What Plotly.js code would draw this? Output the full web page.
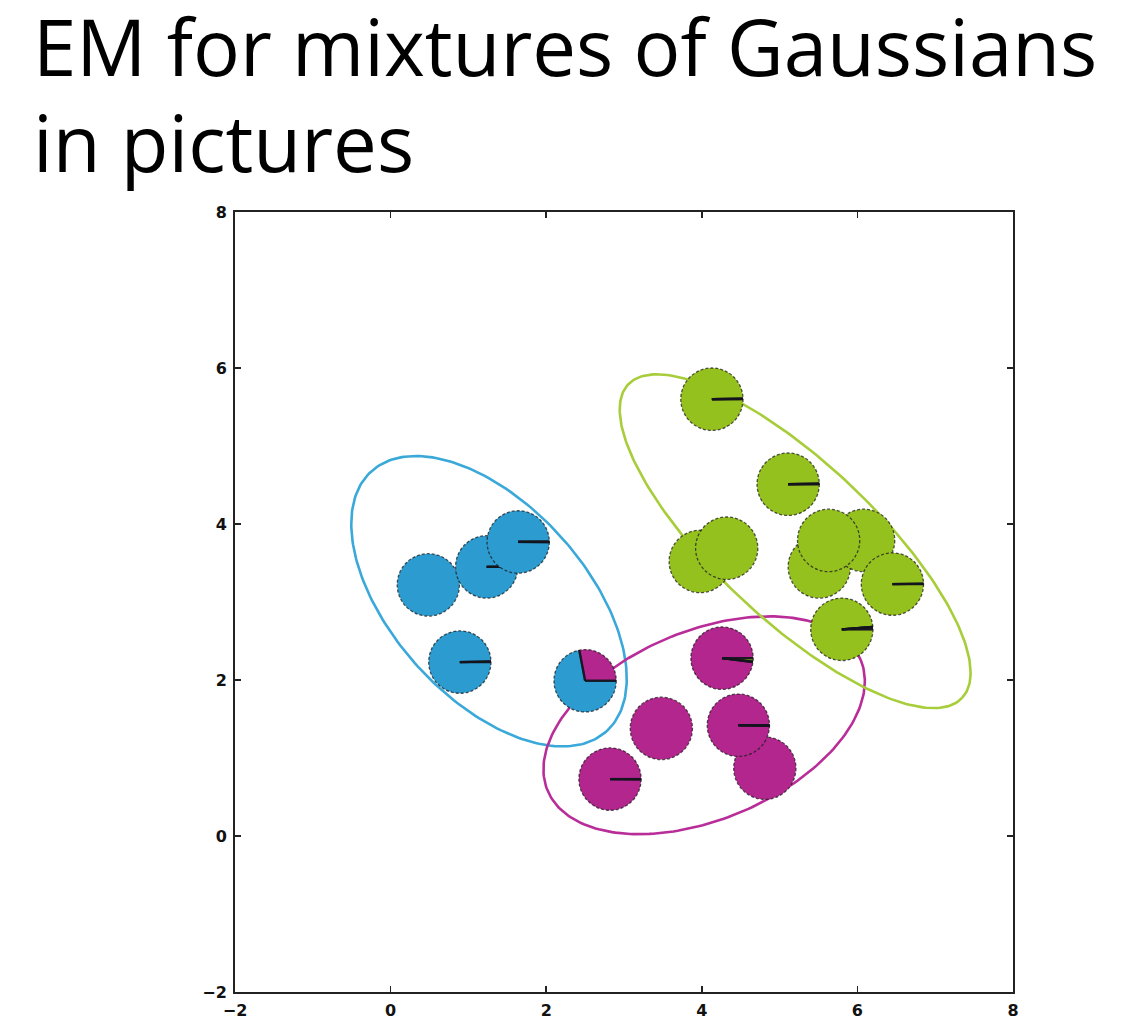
<!DOCTYPE html>
<html><head><meta charset="utf-8">
<script src="https://cdn.plot.ly/plotly-3.0.1.min.js"></script>
<style>html,body{margin:0;padding:0;background:#fff;}#chart{width:1130px;height:1022px;}</style>
</head><body><div id="chart"></div>
<script>
// ---- data points (draw order) ----
const pointX = [0.485, 0.89, 1.235, 1.64, 2.50, 2.82, 3.48, 4.81, 4.47, 4.26, 4.13, 5.11, 3.98, 4.32, 5.51, 6.08, 5.63, 6.45, 5.80];
const pointY = [3.22, 2.23, 3.45, 3.77, 1.99, 0.73, 1.38, 0.87, 1.42, 2.28, 5.60, 4.51, 3.52, 3.69, 3.45, 3.79, 3.79, 3.23, 2.65];
// responsibilities, pie order: magenta, blue, green
const respMagenta = [0, 0.003, 0.002, 0.002, 0.28, 0.998, 1, 1, 0.997, 0.98, 0.002, 0.002, 0, 0, 0, 0, 0, 0.002, 0.012];
const respBlue    = [1, 0.997, 0.998, 0.997, 0.72, 0.002, 0, 0, 0.002, 0.003, 0.001, 0.001, 0, 0, 0, 0, 0, 0, 0.001];
const respGreen   = [0, 0, 0, 0.001, 0, 0, 0, 0, 0.001, 0.017, 0.997, 0.997, 1, 1, 1, 1, 1, 0.998, 0.987];
const pointRadius = 0.4;

// ---- Gaussian contours: blue, magenta, green ----
const ellipseNames = ['blue', 'magenta', 'green'];
const ellipseCx = [1.265, 4.03, 5.20];
const ellipseCy = [3.01, 1.42, 3.78];
const ellipseA = [2.25, 2.18, 2.94];
const ellipseB = [1.24, 1.21, 1.01];
const ellipseAngle = [-47.7, 22.6, -43.1];

const tickVals = [-2, 0, 2, 4, 6, 8];
const titleLines = ['EM for mixtures of Gaussians', 'in pictures'];

// ---- styles ----
const fillColors = {magenta: '#b3268e', blue: '#2c9bd0', green: '#95c11f'};
const ellipseColors = {blue: '#3aa8d9', magenta: '#b92d98', green: '#a7cd3a'};

const traces = [];
for (let k = 0; k < ellipseCx.length; k++) {
  const xs = [], ys = [];
  const th = ellipseAngle[k] * Math.PI / 180;
  for (let i = 0; i <= 240; i++) {
    const t = 2 * Math.PI * i / 240;
    const u = ellipseA[k] * Math.cos(t), v = ellipseB[k] * Math.sin(t);
    xs.push(ellipseCx[k] + u * Math.cos(th) - v * Math.sin(th));
    ys.push(ellipseCy[k] + u * Math.sin(th) + v * Math.cos(th));
  }
  traces.push({type: 'scatter', mode: 'lines', x: xs, y: ys, hoverinfo: 'skip',
    line: {color: ellipseColors[ellipseNames[k]], width: 2.6}, showlegend: false});
}

const shapes = [];
const edgeColor = 'rgba(20,20,30,0.8)';
for (let i = 0; i < pointX.length; i++) {
  const cx = pointX[i], cy = pointY[i], r = pointRadius;
  const fr = [respMagenta[i], respBlue[i], respGreen[i]];
  const cols = [fillColors.magenta, fillColors.blue, fillColors.green];
  const full = fr.indexOf(1);
  const bounds = [];
  if (full >= 0) {
    shapes.push({type: 'circle', xref: 'x', yref: 'y', x0: cx - r, x1: cx + r, y0: cy - r, y1: cy + r,
      fillcolor: cols[full], line: {width: 0}, layer: 'above'});
  } else {
    let a0 = 0;
    for (let k = 0; k < 3; k++) {
      if (fr[k] <= 0) continue;
      const a1 = a0 + fr[k] * 2 * Math.PI;
      const n = Math.max(2, Math.ceil((a1 - a0) / (2 * Math.PI) * 120));
      let p = 'M ' + cx + ',' + cy;
      for (let j = 0; j <= n; j++) {
        const a = a0 + (a1 - a0) * j / n;
        p += ' L ' + (cx + r * Math.cos(a)) + ',' + (cy + r * Math.sin(a));
      }
      p += ' Z';
      shapes.push({type: 'path', xref: 'x', yref: 'y', path: p, fillcolor: cols[k], line: {width: 0}, layer: 'above'});
      bounds.push(a0, a1);
      a0 = a1;
    }
  }
  shapes.push({type: 'circle', xref: 'x', yref: 'y', x0: cx - r, x1: cx + r, y0: cy - r, y1: cy + r,
    line: {color: 'rgba(30,30,30,0.75)', width: 1.3, dash: '3px,2px'}, layer: 'above'});
  bounds.forEach(a => {
    shapes.push({type: 'line', xref: 'x', yref: 'y', x0: cx, y0: cy,
      x1: cx + r * Math.cos(a), y1: cy + r * Math.sin(a),
      line: {color: edgeColor, width: 2.2}, layer: 'above'});
  });
}

const axisCommon = {
  range: [-2, 8], tickvals: tickVals, ticktext: tickVals.map(v => v < 0 ? '\u2212' + Math.abs(v) : String(v)),
  showgrid: false, zeroline: false, showline: true, linecolor: '#222', linewidth: 2,
  mirror: 'ticks', ticks: 'inside', ticklen: 6, tickwidth: 1.5, tickcolor: '#222',
  tickfont: {family: 'DejaVu Sans', size: 16, weight: 'bold', color: '#111'}, fixedrange: true
};

const layout = {
  width: 1130, height: 1022,
  margin: {l: 235, r: 117, t: 212, b: 30},
  paper_bgcolor: '#fff', plot_bgcolor: '#fff',
  xaxis: Object.assign({}, axisCommon, {ticklabelstandoff: 3}),
  yaxis: Object.assign({}, axisCommon, {ticklabelstandoff: 3}),
  annotations: [
    {text: titleLines[0], xref: 'paper', yref: 'paper', x: -0.2622, y: 1.2128, xanchor: 'left', yanchor: 'middle',
     showarrow: false, font: {family: 'Open Sans', size: 78, color: '#000'}},
    {text: titleLines[1], xref: 'paper', yref: 'paper', x: -0.2622, y: 1.0897, xanchor: 'left', yanchor: 'middle',
     showarrow: false, font: {family: 'Open Sans', size: 78, color: '#000'}}
  ],
  shapes: shapes,
  showlegend: false
};

Plotly.newPlot('chart', traces, layout, {displayModeBar: false, staticPlot: true});
</script>
</body></html>
